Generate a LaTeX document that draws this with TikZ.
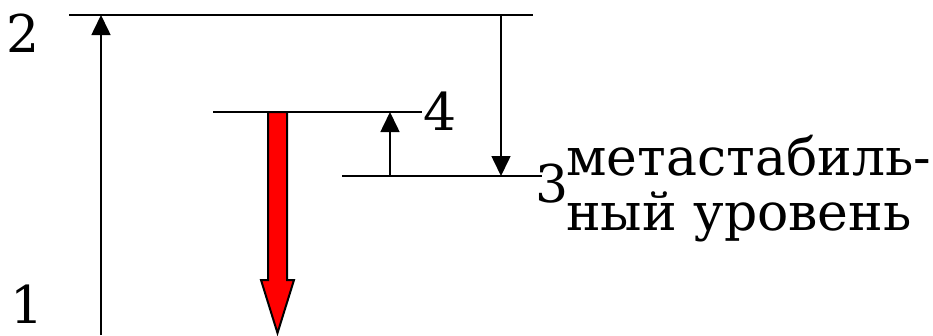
\documentclass[tikz,border=0pt]{standalone}
\usepackage{fontspec}
\setmainfont{DejaVu Serif}
\newfontfamily\labelfam{DejaVu Serif}
\usetikzlibrary{arrows.meta}
\begin{document}
\begin{tikzpicture}[x=1pt,y=-1pt,
  level/.style={line width=2pt},
  trans/.style={line width=1.6pt,-{Triangle[length=20pt,width=19pt]}},
  lbl/.style={font=\labelfam\fontsize{52}{55}\selectfont,inner sep=0pt,anchor=base west},
  emission/.style={line width=2pt,draw=black,fill=red,line join=miter}]
\useasboundingbox (0,0) rectangle (933,335);
% energy levels
\coordinate (l2a) at (69,15);   \coordinate (l2b) at (533,15);
\coordinate (l4a) at (213,112); \coordinate (l4b) at (422,112);
\coordinate (l3a) at (342,176); \coordinate (l3b) at (542,176);
\draw[level] (l2a) -- (l2b);
\draw[level] (l4a) -- (l4b);
\draw[level] (l3a) -- (l3b);
% level labels
\node[lbl] (n2) at (6,52) {2};
\node[lbl] (n1) at (10,323) {1};
\node[lbl] (n4) at (423,130) {4};
\node[lbl] (n3) at (535,202) {3};
\node[lbl] (meta1) at (566,175) {метастабиль-};
\node[lbl] (meta2) at (566,230) {ный уровень};
% transitions
\coordinate (p1) at (101,335); \coordinate (p2) at (101,15);
\draw[trans] (p1) -- (p2);
\coordinate (r2) at (501,15); \coordinate (r3) at (501,176);
\draw[trans] (r2) -- (r3);
\coordinate (s3) at (390,176); \coordinate (s4) at (390,112);
\draw[trans] (s3) -- (s4);
% radiative transition 4 -> 1
\draw[emission] (268,112) -- (287,112) -- (287,280) -- (294,280)
  -- (277.5,333) -- (261,280) -- (268,280) -- cycle;
\end{tikzpicture}
\end{document}
